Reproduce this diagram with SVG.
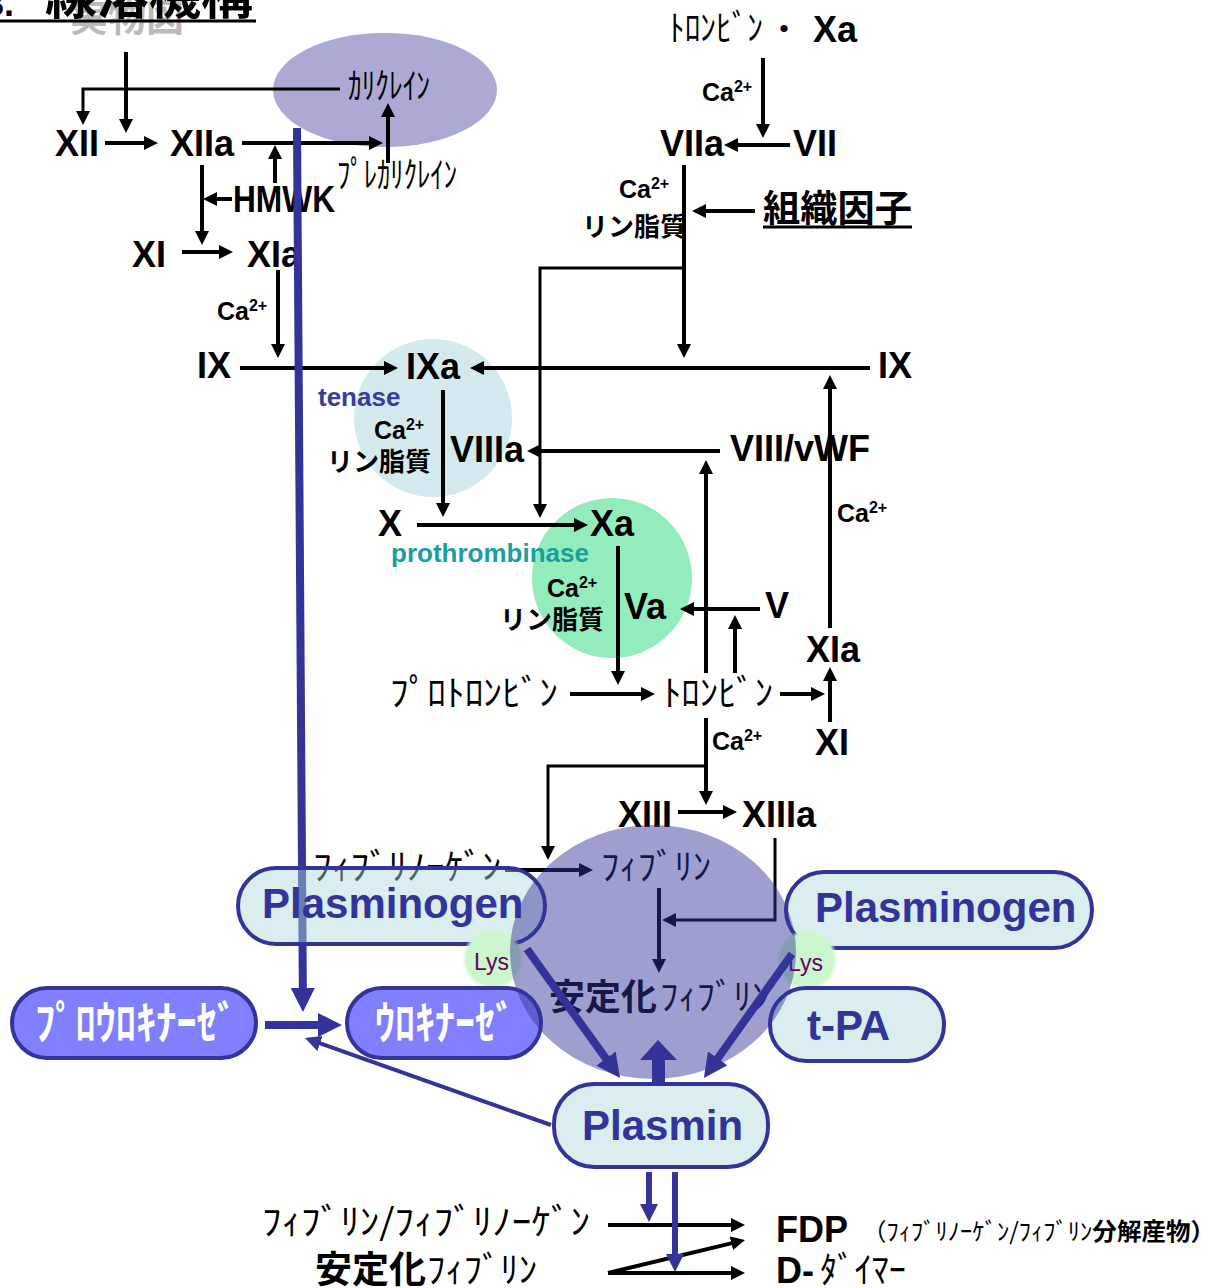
<svg xmlns="http://www.w3.org/2000/svg" width="1217" height="1288" viewBox="0 0 1217 1288">
<defs>
<style>
.b{font-family:"Liberation Sans",Arial,sans-serif;font-weight:bold;font-size:36px;fill:#000}
.ca{font-family:"Liberation Sans",Arial,sans-serif;font-weight:bold;font-size:25px;fill:#000}
.sup{font-size:16px}
.jb{font-family:"Liberation Sans","Noto Sans CJK JP",sans-serif;font-weight:bold;font-size:26px;fill:#000}
.hk{font-family:"Noto Sans CJK JP",sans-serif;font-size:36px;fill:#000}
.pl{font-family:"Liberation Sans",Arial,sans-serif;font-weight:bold;font-size:42px;fill:#333399}
.wk{font-family:"Noto Sans CJK JP",sans-serif;font-weight:bold;font-size:46px;fill:#fff}
.lys{font-family:"Liberation Sans",Arial,sans-serif;font-size:23px;fill:#660066}
.ln{fill:none;stroke:#000;stroke-width:4;marker-end:url(#ah)}
.thin{stroke-width:3}
.pill{fill:#add9de;fill-opacity:.45;stroke:#333399;stroke-width:4}
.upill{fill:#8080ff;stroke:#333399;stroke-width:4}
.bl{fill:none;stroke:#333399}
</style>
<marker id="ah" viewBox="0 0 14 14" refX="6" refY="7" markerWidth="14" markerHeight="14" markerUnits="userSpaceOnUse" orient="auto"><path d="M0,0L14,7L0,14z" fill="#000"/></marker>
<marker id="bh" viewBox="0 0 24 24" refX="10" refY="12" markerWidth="24" markerHeight="24" markerUnits="userSpaceOnUse" orient="auto"><path d="M0,0L24,12L0,24z" fill="#333399"/></marker>
<marker id="bs" viewBox="0 0 16 16" refX="8" refY="8" markerWidth="16" markerHeight="16" markerUnits="userSpaceOnUse" orient="auto"><path d="M0,0L16,8L0,16z" fill="#333399"/></marker>
<marker id="bm" viewBox="0 0 18 18" refX="8" refY="9" markerWidth="18" markerHeight="18" markerUnits="userSpaceOnUse" orient="auto"><path d="M0,0L18,9L0,18z" fill="#333399"/></marker>
<radialGradient id="lysg"><stop offset="0" stop-color="#ccf7cc"/><stop offset=".85" stop-color="#ccf7cc"/><stop offset="1" stop-color="#ccf7cc" stop-opacity="0"/></radialGradient>
</defs>

<g id="title">
<text x="70" y="31" font-family="Noto Sans CJK JP,sans-serif" font-weight="bold" font-size="38" fill="#bbbbbb">実物図</text>
<text x="-16" y="16" class="b" font-size="50">3.</text>
<text x="45" y="14" font-family="Noto Sans CJK JP,sans-serif" font-weight="bold" font-size="52" fill="#000">線溶機構</text>
<line x1="0" y1="21" x2="256" y2="21" stroke="#000" stroke-width="3"/>
</g>

<g id="tenase"><circle cx="433" cy="418" r="79" fill="#d4eaee"/></g>
<g id="prothrombinase"><circle cx="612" cy="578" r="80" fill="#93ecbc"/></g>
<g id="kallikrein"><ellipse cx="385" cy="90" rx="112" ry="57" fill="#aaaad4"/>
<text class="hk" font-size="25" x="348" y="99" textLength="82" lengthAdjust="spacingAndGlyphs">ｶﾘｸﾚｲﾝ</text></g>

<g id="n-xii"><text class="b" x="55" y="156">XII</text></g>
<g id="n-xiia"><text class="b" x="170" y="156">XIIa</text></g>
<g id="n-prekallikrein"><text class="hk" font-size="26" x="337" y="188" textLength="120" lengthAdjust="spacingAndGlyphs">ﾌﾟﾚｶﾘｸﾚｲﾝ</text></g>
<g id="n-hmwk"><text class="b" font-size="32" x="233" y="212" textLength="102" lengthAdjust="spacingAndGlyphs">HMWK</text></g>
<g id="n-xi"><text class="b" x="132" y="267">XI</text></g>
<g id="n-xia"><text class="b" x="247" y="267">XIa</text></g>
<g id="l-ca1"><text class="ca" x="217" y="320">Ca<tspan class="sup" dy="-9">2+</tspan></text></g>
<g id="n-ix"><text class="b" x="197" y="378">IX</text></g>
<g id="n-ixa"><text class="b" x="406" y="379">IXa</text></g>
<g id="l-tenase"><text x="318" y="406" font-family="Liberation Sans,Arial,sans-serif" font-weight="bold" font-size="26" fill="#3b3b9e">tenase</text>
<text class="ca" x="374" y="439">Ca<tspan class="sup" dy="-9">2+</tspan></text>
<text class="jb" x="327" y="471">リン脂質</text></g>
<g id="n-viiia"><text class="b" x="450" y="462">VIIIa</text></g>
<g id="n-x"><text class="b" x="378" y="536">X</text></g>
<g id="n-xa"><text class="b" x="590" y="536">Xa</text></g>
<g id="l-prothrombinase"><text x="391" y="562" font-family="Liberation Sans,Arial,sans-serif" font-weight="bold" font-size="26" fill="#1a9e9e">prothrombinase</text>
<text class="ca" x="547" y="597">Ca<tspan class="sup" dy="-9">2+</tspan></text>
<text class="jb" x="500" y="629">リン脂質</text></g>
<g id="n-va"><text class="b" x="624" y="619">Va</text></g>
<g id="n-v"><text class="b" x="765" y="618">V</text></g>
<g id="n-prothrombin"><text class="hk" x="390" y="706" textLength="168" lengthAdjust="spacingAndGlyphs">ﾌﾟﾛﾄﾛﾝﾋﾞﾝ</text></g>
<g id="n-thrombin"><text class="hk" x="663" y="706" textLength="110" lengthAdjust="spacingAndGlyphs">ﾄﾛﾝﾋﾞﾝ</text></g>
<g id="n-xia-r"><text class="b" x="806" y="662">XIa</text></g>
<g id="n-xi-r"><text class="b" x="815" y="755">XI</text></g>
<g id="l-ca-r"><text class="ca" x="837" y="522">Ca<tspan class="sup" dy="-9">2+</tspan></text></g>
<g id="n-viii-vwf"><text class="b" x="730" y="461">VIII/vWF</text></g>
<g id="n-ix-r"><text class="b" x="878" y="378">IX</text></g>
<g id="n-thrombin-xa"><text class="hk" x="669" y="41" textLength="94" lengthAdjust="spacingAndGlyphs">ﾄﾛﾝﾋﾞﾝ</text>
<text x="770" y="40" font-family="Noto Sans CJK JP,sans-serif" font-weight="bold" font-size="28" fill="#000">・</text>
<text class="b" x="813" y="42">Xa</text></g>
<g id="l-ca-top"><text class="ca" x="702" y="101">Ca<tspan class="sup" dy="-9">2+</tspan></text></g>
<g id="n-viia"><text class="b" x="660" y="156">VIIa</text></g>
<g id="n-vii"><text class="b" x="793" y="156">VII</text></g>
<g id="l-viia"><text class="ca" x="619" y="198">Ca<tspan class="sup" dy="-9">2+</tspan></text>
<text class="jb" x="582" y="236">リン脂質</text></g>
<g id="n-tissue-factor"><text x="763" y="222" font-family="Noto Sans CJK JP,sans-serif" font-weight="bold" font-size="37" fill="#000" textLength="149" lengthAdjust="spacingAndGlyphs">組織因子</text>
<line x1="763" y1="227" x2="912" y2="227" stroke="#000" stroke-width="3"/></g>
<g id="l-ca-thr"><text class="ca" x="712" y="750">Ca<tspan class="sup" dy="-9">2+</tspan></text></g>
<g id="n-xiii"><text class="b" x="618" y="827">XIII</text></g>
<g id="n-xiiia"><text class="b" x="742" y="827">XIIIa</text></g>
<g id="n-fibrinogen"><text class="hk" font-size="35" x="313" y="880" textLength="188" lengthAdjust="spacingAndGlyphs">ﾌｨﾌﾞﾘﾉｰｹﾞﾝ</text></g>
<g id="n-fibrin"><text class="hk" font-size="35" x="601" y="880" textLength="110" lengthAdjust="spacingAndGlyphs">ﾌｨﾌﾞﾘﾝ</text></g>
<g id="n-stable-fibrin"><text x="549" y="1010" font-family="Noto Sans CJK JP,sans-serif" font-weight="bold" font-size="36" fill="#000">安定化</text>
<text class="hk" font-size="38" x="660" y="1010" textLength="110" lengthAdjust="spacingAndGlyphs">ﾌｨﾌﾞﾘﾝ</text></g>

<g id="connectors">
<path class="ln" d="M126,52V125"/>
<path class="ln thin" d="M340,89H83V117"/>
<path class="ln" d="M105,143H150"/>
<path class="ln" d="M242,143H375"/>
<path class="ln" d="M275,183V153"/>
<path class="ln" d="M388,163V111"/>
<path class="ln" d="M202,165V237"/>
<path class="ln" d="M232,199H211"/>
<path class="ln" d="M182,252H225"/>
<path class="ln" d="M278,270V350"/>
<path class="ln" d="M240,368H390"/>
<path class="ln" d="M443,390V509"/>
<path class="ln" d="M417,525H580"/>
<path class="ln thin" d="M684,268H540V510"/>
<path class="ln" d="M870,368H478"/>
<path class="ln" d="M720,451H535"/>
<path class="ln" d="M706,673V468"/>
<path class="ln" d="M618,546V677"/>
<path class="ln" d="M760,609H688"/>
<path class="ln" d="M735,673V623"/>
<path class="ln" d="M830,628V383"/>
<path class="ln" d="M830,722V675"/>
<path class="ln" d="M570,694H647"/>
<path class="ln" d="M780,694H817"/>
<path class="ln" d="M706,718V797"/>
<path class="ln thin" d="M706,766H548V852"/>
<path class="ln" d="M678,812H729"/>
<path class="ln thin" d="M775,838V920H670"/>
<path class="ln" d="M505,870H585"/>
<path class="ln" d="M659,888V965"/>
<path class="ln" d="M763,58V130"/>
<path class="ln" d="M790,145H732"/>
<path class="ln" d="M684,165V350"/>
<path class="ln" d="M755,211H700"/>
<path class="ln" d="M608,1225H737"/>
<path class="ln" d="M608,1273H737"/>
<path class="ln" d="M608,1273L737.2,1241.9"/>
</g>

<g id="connectors-activation">
<path class="bl" d="M297,128L302.9,998" stroke-width="8" marker-end="url(#bh)"/>
<path class="bl" d="M551,1125L312.5,1040.7" stroke-width="4" marker-end="url(#bs)"/>
<path class="bl" d="M265,1025H328" stroke-width="8" marker-end="url(#bh)"/>
</g>

<g id="n-plasminogen-l"><rect class="pill" x="238" y="868" width="307" height="76" rx="38"/>
<text class="pl" x="262" y="918">Plasminogen</text></g>
<g id="n-plasminogen-r"><rect class="pill" x="786" y="872" width="306" height="76" rx="38"/>
<text class="pl" x="815" y="922">Plasminogen</text></g>
<g id="n-lys-l"><circle cx="493" cy="959" r="31" fill="url(#lysg)"/><text class="lys" x="474" y="970">Lys</text></g>
<g id="n-lys-r"><circle cx="807" cy="960" r="31" fill="url(#lysg)"/><text class="lys" x="788" y="971">Lys</text></g>
<g id="n-prourokinase"><rect class="upill" x="12" y="988" width="244" height="70" rx="35"/>
<text class="wk" x="35" y="1039" textLength="202" lengthAdjust="spacingAndGlyphs">ﾌﾟﾛｳﾛｷﾅｰｾﾞ</text></g>
<g id="n-urokinase"><rect class="upill" x="347" y="988" width="194" height="70" rx="35"/>
<text class="wk" x="375" y="1039" textLength="140" lengthAdjust="spacingAndGlyphs">ｳﾛｷﾅｰｾﾞ</text></g>
<g id="n-tpa"><rect class="pill" x="770" y="988" width="174" height="73" rx="36"/>
<text class="pl" font-size="44" x="807" y="1040">t-PA</text></g>

<g id="n-fibrin-clot"><ellipse cx="653" cy="952" rx="143" ry="127" fill="#333399" fill-opacity=".47"/></g>

<g id="connectors-plasmin">
<path class="bl" d="M527,949L611.8,1066.7" stroke-width="8" marker-end="url(#bh)"/>
<path class="bl" d="M792,954L712,1066.5" stroke-width="8" marker-end="url(#bh)"/>
<polygon points="658,1040 677,1060 665,1060 665,1083 652,1083 652,1060 640,1060" fill="#333399"/>
<path class="bl" d="M649,1172V1212" stroke-width="6" marker-end="url(#bm)"/>
<path class="bl" d="M675,1172V1262" stroke-width="6" marker-end="url(#bm)"/>
</g>

<g id="n-plasmin"><rect class="pill" x="554" y="1084" width="214" height="83" rx="40"/>
<text class="pl" x="582" y="1140">Plasmin</text></g>

<g id="n-fibrin-fibrinogen"><text class="hk" font-size="32" x="262" y="1235" textLength="328" lengthAdjust="spacingAndGlyphs">ﾌｨﾌﾞﾘﾝ/ﾌｨﾌﾞﾘﾉｰｹﾞﾝ</text></g>
<g id="n-stable-fibrin-b"><text x="315" y="1283" font-family="Noto Sans CJK JP,sans-serif" font-weight="bold" font-size="37" fill="#000">安定化</text>
<text class="hk" font-size="36" x="427" y="1283" textLength="110" lengthAdjust="spacingAndGlyphs">ﾌｨﾌﾞﾘﾝ</text></g>
<g id="n-fdp"><text class="b" font-size="34" x="776" y="1242">FDP</text>
<text x="862" y="1240" font-family="Noto Sans CJK JP,sans-serif" font-size="24" fill="#000" textLength="353" lengthAdjust="spacingAndGlyphs">（ﾌｨﾌﾞﾘﾉｰｹﾞﾝ/ﾌｨﾌﾞﾘﾝ<tspan font-weight="bold">分解産物）</tspan></text></g>
<g id="n-d-dimer"><text class="b" font-size="34" x="776" y="1283">D-</text>
<text class="hk" font-size="32" x="820" y="1283" textLength="86" lengthAdjust="spacingAndGlyphs">ﾀﾞｲﾏｰ</text></g>
</svg>
